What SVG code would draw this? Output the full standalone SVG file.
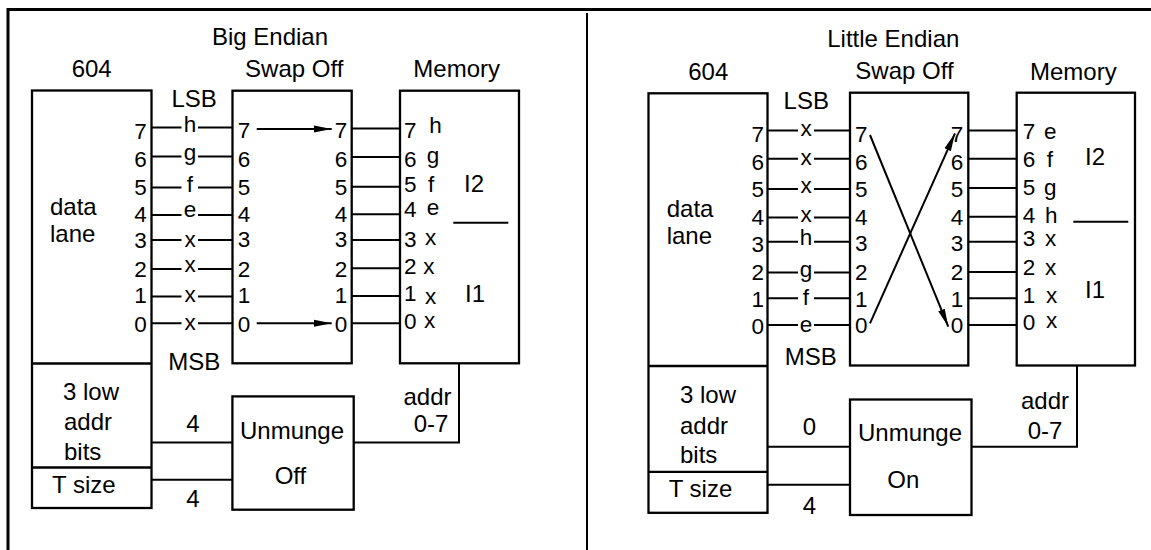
<svg xmlns="http://www.w3.org/2000/svg" width="1151" height="550" viewBox="0 0 1151 550">
<style>
text{font-family:"Liberation Sans",Arial,Helvetica,sans-serif;font-size:24px;fill:#000}
.s text,text.s{font-size:22.5px}
.c{text-anchor:middle}
.r{text-anchor:end}
.box{fill:none;stroke:#000;stroke-width:2.3}
.ln{fill:none;stroke:#000;stroke-width:2}
.frame{fill:none;stroke:#000;stroke-width:3}
</style>
<defs>
<marker id="ah" viewBox="0 0 18 8" refX="18" refY="4" markerWidth="18" markerHeight="8" markerUnits="userSpaceOnUse" orient="auto">
<path d="M0,0.5 L18,4 L0,7.5 z" fill="#000"/>
</marker>
</defs>
<rect width="1151" height="550" fill="#fff"/>
<g id="frame">
<path class="frame" d="M8,550 V9.5 H1151"/>
<path class="ln" d="M587,13 V550"/>
</g>

<!-- LEFT PANEL -->
<g id="big-endian">
<text class="c" x="270" y="45">Big Endian</text>
<text class="c" x="91.7" y="77">604</text>
<text class="c" x="294.2" y="77">Swap Off</text>
<text class="c" x="456.7" y="77">Memory</text>
<text class="c" x="194.2" y="106.7">LSB</text>
<text class="c" x="194.2" y="370">MSB</text>
</g>
<g id="cpu-left">
<rect class="box" x="32" y="90.5" width="119.5" height="417.5"/>
<path class="box" d="M32,363.5 H151.5 M32,467.5 H151.5"/>
<text x="50" y="215">data</text>
<text x="50" y="241.7">lane</text>
<g class="r s">
<text x="146.7" y="139">7</text><text x="146.7" y="166.7">6</text><text x="146.7" y="195">5</text><text x="146.7" y="221.7">4</text>
<text x="146.7" y="247.7">3</text><text x="146.7" y="276.7">2</text><text x="146.7" y="303.3">1</text><text x="146.7" y="331.7">0</text>
</g>
<text x="63" y="400">3 low</text>
<text x="64" y="429.6">addr</text>
<text x="64" y="459.6">bits</text>
<text x="52" y="492.5">T size</text>
</g>
<g id="swap-left">
<rect class="box" x="232.5" y="90.7" width="119.2" height="272.6"/>
<g class="s">
<text x="237.7" y="138.3">7</text><text x="237.7" y="166.7">6</text><text x="237.7" y="195">5</text><text x="237.7" y="221.7">4</text>
<text x="237.7" y="247.3">3</text><text x="237.7" y="276.7">2</text><text x="237.7" y="303.3">1</text><text x="237.7" y="331.7">0</text>
</g>
<g class="r s">
<text x="347.3" y="138.3">7</text><text x="347.3" y="166.7">6</text><text x="347.3" y="195">5</text><text x="347.3" y="221.7">4</text>
<text x="347.3" y="247.3">3</text><text x="347.3" y="276.7">2</text><text x="347.3" y="303.3">1</text><text x="347.3" y="331.7">0</text>
</g>
</g>
<g id="memory-left">
<rect class="box" x="400" y="90.7" width="119" height="272.6"/>
<g class="s">
<text x="404" y="138.3">7</text><text x="404" y="166.7">6</text><text x="404" y="191.7">5</text><text x="404" y="216.7">4</text>
<text x="404" y="246.7">3</text><text x="404" y="274">2</text><text x="404" y="300.7">1</text><text x="404" y="329.3">0</text>
<text x="429.3" y="133.3">h</text><text x="426.7" y="163">g</text><text x="428" y="191.7">f</text><text x="426.7" y="215">e</text>
<text x="425" y="245">x</text><text x="423.3" y="274">x</text><text x="425" y="303.5">x</text><text x="424" y="327.7">x</text>
</g>
<text class="c" x="474" y="191.7">I2</text>
<path class="ln" d="M453.3,222.7 H508.3"/>
<text class="c" x="475" y="301.7">I1</text>
</g>
<g id="unmunge-left">
<rect class="box" x="232.4" y="396.4" width="121.3" height="113.3"/>
<text class="c" x="292" y="439">Unmunge</text>
<text class="c" x="290.5" y="483.5">Off</text>
</g>
<g id="connectors-left">
<path class="ln" d="M151.5,127.5 H181.5 M198,127.5 H232.5 M151.5,156.5 H181.5 M198,156.5 H232.5 M151.5,187.5 H181.5 M198,187.5 H232.5 M151.5,215 H181.5 M198,215 H232.5 M151.5,240 H181.5 M198,240 H232.5 M151.5,269 H181.5 M198,269 H232.5 M151.5,296.5 H181.5 M198,296.5 H232.5 M151.5,323.3 H181.5 M198,323.3 H232.5"/>
<g class="c s">
<text x="190" y="131.7">h</text><text x="190" y="160">g</text><text x="190" y="191.5">f</text><text x="190" y="216.5">e</text>
<text x="190" y="247">x</text><text x="190" y="272">x</text><text x="190" y="302">x</text><text x="190" y="330">x</text>
</g>
<path class="ln" d="M351.7,128.5 H400 M351.7,157 H400 M351.7,186.7 H400 M351.7,214.3 H400 M351.7,240 H400 M351.7,268.3 H400 M351.7,296 H400 M351.7,323.3 H400"/>
<path class="ln" marker-end="url(#ah)" d="M256.7,129 H331.7"/>
<path class="ln" marker-end="url(#ah)" d="M256.7,323.3 H331.7"/>
<path class="ln" d="M151.5,442.4 H232.4 M151.5,479.7 H232.4 M353.7,442.4 H459 V363.3"/>
<text class="c" x="193" y="432">4</text>
<text class="c" x="193" y="507">4</text>
<text class="c" x="427.5" y="404.8">addr</text>
<text class="c" x="431" y="432">0-7</text>
</g>

<!-- RIGHT PANEL -->
<g id="little-endian">
<text class="c" x="893.3" y="46.7">Little Endian</text>
<text class="c" x="708.3" y="80">604</text>
<text class="c" x="904.5" y="79">Swap Off</text>
<text class="c" x="1073.3" y="80">Memory</text>
<text class="c" x="806.3" y="109.3">LSB</text>
<text class="c" x="810.8" y="365">MSB</text>
</g>
<g id="cpu-right">
<rect class="box" x="648.5" y="93.3" width="119" height="419.5"/>
<path class="box" d="M648.5,366 H767.5 M648.5,471.8 H767.5"/>
<text x="666.7" y="217.3">data</text>
<text x="666.7" y="244">lane</text>
<g class="r s">
<text x="764" y="141.7">7</text><text x="764" y="170">6</text><text x="764" y="196.7">5</text><text x="764" y="225">4</text>
<text x="764" y="251.7">3</text><text x="764" y="280">2</text><text x="764" y="306.7">1</text><text x="764" y="334">0</text>
</g>
<text x="680" y="403.3">3 low</text>
<text x="680" y="433.8">addr</text>
<text x="680" y="462.5">bits</text>
<text x="668.7" y="497">T size</text>
</g>
<g id="swap-right">
<rect class="box" x="850" y="92.7" width="118.3" height="272.8"/>
<g class="s">
<text x="855" y="141.7">7</text><text x="855" y="170">6</text><text x="855" y="196.7">5</text><text x="855" y="225">4</text>
<text x="855" y="251">3</text><text x="855" y="280">2</text><text x="855" y="306.7">1</text><text x="855" y="332.7">0</text>
</g>
<g class="r s">
<text x="963.3" y="141.7">7</text><text x="963.3" y="170">6</text><text x="963.3" y="196.7">5</text><text x="963.3" y="225">4</text>
<text x="963.3" y="251">3</text><text x="963.3" y="280">2</text><text x="963.3" y="306.7">1</text><text x="963.3" y="332.7">0</text>
</g>
</g>
<g id="memory-right">
<rect class="box" x="1016.7" y="92.7" width="118.3" height="272.8"/>
<g class="s">
<text x="1022.7" y="139.3">7</text><text x="1022.7" y="166.7">6</text><text x="1022.7" y="195">5</text><text x="1022.7" y="223.3">4</text>
<text x="1022.7" y="246">3</text><text x="1022.7" y="275">2</text><text x="1022.7" y="302.7">1</text><text x="1022.7" y="330">0</text>
<text x="1044" y="139">e</text><text x="1046.7" y="166.7">f</text><text x="1044" y="195">g</text><text x="1045" y="223.3">h</text>
<text x="1045" y="246">x</text><text x="1045" y="275">x</text><text x="1046" y="302.7">x</text><text x="1046" y="328.3">x</text>
</g>
<text class="c" x="1095" y="165">I2</text>
<path class="ln" d="M1073.3,221.7 H1128.3"/>
<text class="c" x="1095" y="298.3">I1</text>
</g>
<g id="unmunge-right">
<rect class="box" x="850" y="399.5" width="121.5" height="115.5"/>
<text class="c" x="910" y="441.2">Unmunge</text>
<text class="c" x="903.3" y="487.8">On</text>
</g>
<g id="connectors-right">
<path class="ln" d="M767.5,130.5 H798 M814,130.5 H850 M767.5,158.8 H798 M814,158.8 H850 M767.5,189 H798 M814,189 H850 M767.5,217.5 H798 M814,217.5 H850 M767.5,241.7 H798 M814,241.7 H850 M767.5,272.5 H798 M814,272.5 H850 M767.5,298.3 H798 M814,298.3 H850 M767.5,325 H798 M814,325 H850"/>
<g class="c s">
<text x="806" y="136">x</text><text x="806" y="165">x</text><text x="806" y="193.3">x</text><text x="806" y="221.7">x</text>
<text x="806" y="245">h</text><text x="806" y="276.7">g</text><text x="806" y="305">f</text><text x="806" y="331.7">e</text>
</g>
<path class="ln" d="M968.3,130.5 H1016.7 M968.3,158.8 H1016.7 M968.3,188 H1016.7 M968.3,216.7 H1016.7 M968.3,241.7 H1016.7 M968.3,272 H1016.7 M968.3,298.3 H1016.7 M968.3,325 H1016.7"/>
<path class="ln" marker-end="url(#ah)" d="M870,135 L948.3,326.7"/>
<path class="ln" marker-end="url(#ah)" d="M870,323.3 L955,133.3"/>
<path class="ln" d="M767.5,446.8 H850 M767.5,484.8 H850 M971.5,446.8 H1077 V365.5"/>
<text class="c" x="809.5" y="435">0</text>
<text class="c" x="809.5" y="514">4</text>
<text class="c" x="1045" y="408.8">addr</text>
<text class="c" x="1045" y="439.4">0-7</text>
</g>
</svg>
